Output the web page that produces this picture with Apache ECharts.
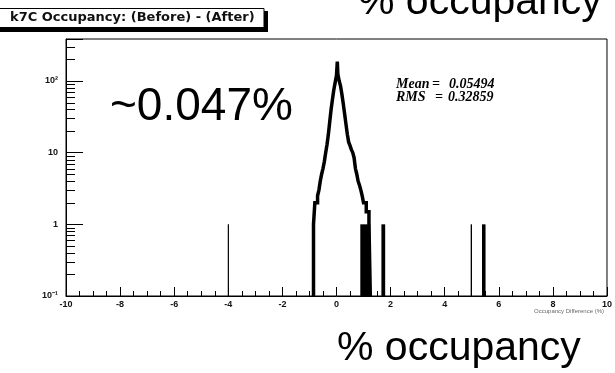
<!DOCTYPE html>
<html>
<head>
<meta charset="utf-8">
<script src="https://cdn.jsdelivr.net/npm/echarts@6/dist/echarts.min.js"></script>
<style>
  html, body { margin: 0; padding: 0; background: #fff; }
  #chart { width: 615px; height: 373px; }
</style>
</head>
<body>
<div id="chart"></div>
<script>
// central peak, ROOT-style step histogram (bin edges + contents)
const coreEdges = [-0.85, -0.8, -0.75, -0.7, -0.65, -0.6, -0.55, -0.5, -0.45, -0.4,
  -0.35, -0.3, -0.25, -0.2, -0.15, -0.1, -0.05, 0, 0.03, 0.05,
  0.1, 0.15, 0.2, 0.25, 0.3, 0.35, 0.4, 0.45, 0.5, 0.55,
  0.6, 0.65, 0.7, 0.75, 0.8, 0.85, 0.9, 0.95, 1.0, 1.05,
  1.1, 1.15, 1.2, 1.25];
const coreCounts = [1, 2, 2, 2.5, 3, 4, 5, 6, 7.5, 10,
  13, 18, 27, 40, 55, 75, 95, 120, 186, 125,
  100, 85, 65, 48, 35, 25, 18, 14, 12.5, 11,
  10, 8.5, 6, 5, 4, 3.5, 3, 2.5, 2, 2,
  1.5, 1.5, 1];

// isolated single-entry bins (and the dense band at the right foot of the peak)
const spikeLo = [-4.02, 0.88, 1.66, 4.96, 5.38];
const spikeHi = [-3.99, 1.25, 1.80, 5.01, 5.51];
const spikeCounts = [1, 1, 1, 1, 1];

const yMinorTicks = [0.2, 0.3, 0.4, 0.5, 0.6, 0.7, 0.8, 0.9,
  2, 3, 4, 5, 6, 7, 8, 9,
  20, 30, 40, 50, 60, 70, 80, 90,
  200, 300];
const yLabels = { "0.1": "10\u207B\u00B9", "1": "1", "10": "10", "100": "10\u00B2" };

const Y_MIN = 0.1;
const Y_MAX = 385;

function histPoints(edges, counts) {
  const pts = [[edges[0], Y_MIN]];
  counts.forEach((c, i) => {
    pts.push([edges[i], c], [edges[i + 1], c]);
  });
  pts.push([edges[edges.length - 1], Y_MIN]);
  return pts;
}

const chart = echarts.init(document.getElementById("chart"), null, { renderer: "canvas" });

const statFont = "italic bold 14px 'Liberation Serif'";

chart.setOption({
  animation: false,
  backgroundColor: "#fff",
  grid: {
    left: 66, right: 4, top: 39, bottom: 77,
    show: true, borderColor: "#000", borderWidth: 1, backgroundColor: "transparent"
  },
  xAxis: {
    type: "value",
    min: -10, max: 10, interval: 2,
    axisLine: { onZero: false, lineStyle: { color: "#000", width: 1 } },
    axisTick: { inside: true, length: 9, lineStyle: { color: "#000" } },
    minorTick: { show: true, splitNumber: 4, length: 5, lineStyle: { color: "#000" } },
    splitLine: { show: false },
    axisLabel: {
      color: "#111", fontSize: 9, fontWeight: "bold", fontFamily: "Liberation Sans",
      margin: 4, showMinLabel: true, showMaxLabel: true
    }
  },
  yAxis: {
    type: "log",
    logBase: 10,
    min: Y_MIN, max: Y_MAX,
    axisLine: { show: true, onZero: false, lineStyle: { color: "#000", width: 1 } },
    axisTick: { inside: true, length: 17, lineStyle: { color: "#000" } },
    splitLine: { show: false },
    axisLabel: {
      color: "#111", fontSize: 9, fontWeight: "bold", fontFamily: "Liberation Sans",
      margin: 8,
      formatter: (v) => {
        const key = String(+v.toPrecision(3));
        return yLabels[key] !== undefined ? yLabels[key] : "";
      }
    }
  },
  series: [
    {
      name: "minor",
      type: "custom",
      silent: true,
      data: yMinorTicks.map((v) => [-10, v]),
      encode: { x: 0, y: 1 },
      renderItem: (params, api) => {
        const p = api.coord([api.value(0), api.value(1)]);
        const y = Math.round(p[1]) + 0.5;
        return {
          type: "line",
          shape: { x1: p[0], y1: y, x2: p[0] + 9, y2: y },
          style: { stroke: "#000", lineWidth: 1 }
        };
      }
    },
    {
      name: "spikes",
      type: "custom",
      silent: true,
      data: spikeLo.map((lo, i) => [lo, spikeHi[i], spikeCounts[i]]),
      encode: { x: [0, 1], y: 2 },
      renderItem: (params, api) => {
        const a = api.coord([api.value(0), api.value(2)]);
        const b = api.coord([api.value(1), Y_MIN]);
        const w = Math.max(1.2, b[0] - a[0]);
        return {
          type: "rect",
          shape: { x: a[0], y: a[1], width: w, height: b[1] - a[1] },
          style: { fill: "#000" }
        };
      }
    },
    {
      name: "Occupancy",
      type: "line",
      data: histPoints(coreEdges, coreCounts),
      symbol: "none",
      lineStyle: { color: "#000", width: 3.5, join: "miter" },
      z: 3
    }
  ],
  graphic: [
    // title pave with shadow
    { type: "rect", shape: { x: -5, y: 11, width: 273, height: 21 }, style: { fill: "#000" }, silent: true },
    { type: "rect", shape: { x: -8, y: 8.5, width: 272, height: 19 }, style: { fill: "#fff", stroke: "#000", lineWidth: 1 }, silent: true },
    {
      type: "text", x: 10, y: 18, silent: true,
      style: { text: "k7C Occupancy: (Before) - (After)", fill: "#111", font: "bold 13px 'DejaVu Sans'", verticalAlign: "middle" }
    },
    // stats
    { type: "text", x: 396, y: 84, silent: true, style: { text: "Mean", fill: "#000", font: statFont, verticalAlign: "middle" } },
    { type: "text", x: 432, y: 84, silent: true, style: { text: "=", fill: "#000", font: statFont, verticalAlign: "middle" } },
    { type: "text", x: 449, y: 84, silent: true, style: { text: "0.05494", fill: "#000", font: statFont, verticalAlign: "middle" } },
    { type: "text", x: 396, y: 97, silent: true, style: { text: "RMS", fill: "#000", font: statFont, verticalAlign: "middle" } },
    { type: "text", x: 435, y: 97, silent: true, style: { text: "=", fill: "#000", font: statFont, verticalAlign: "middle" } },
    { type: "text", x: 448, y: 97, silent: true, style: { text: "0.32859", fill: "#000", font: statFont, verticalAlign: "middle" } },
    // axis title (tiny)
    { type: "text", x: 604, y: 311, silent: true, style: { text: "Occupancy Difference (%)", fill: "#666", font: "6px 'Liberation Sans'", align: "right", verticalAlign: "middle" } },
    // annotations
    { type: "text", x: 110, y: 84, silent: true, style: { text: "~0.047%", fill: "#000", font: "46px 'Liberation Sans'", verticalAlign: "top" } },
    { type: "text", x: 358, y: -18, silent: true, style: { text: "% occupancy", fill: "#000", font: "41px 'Liberation Sans'", verticalAlign: "top" } },
    { type: "text", x: 337, y: 328, silent: true, style: { text: "% occupancy", fill: "#000", font: "41px 'Liberation Sans'", verticalAlign: "top" } }
  ]
});
</script>
</body>
</html>
